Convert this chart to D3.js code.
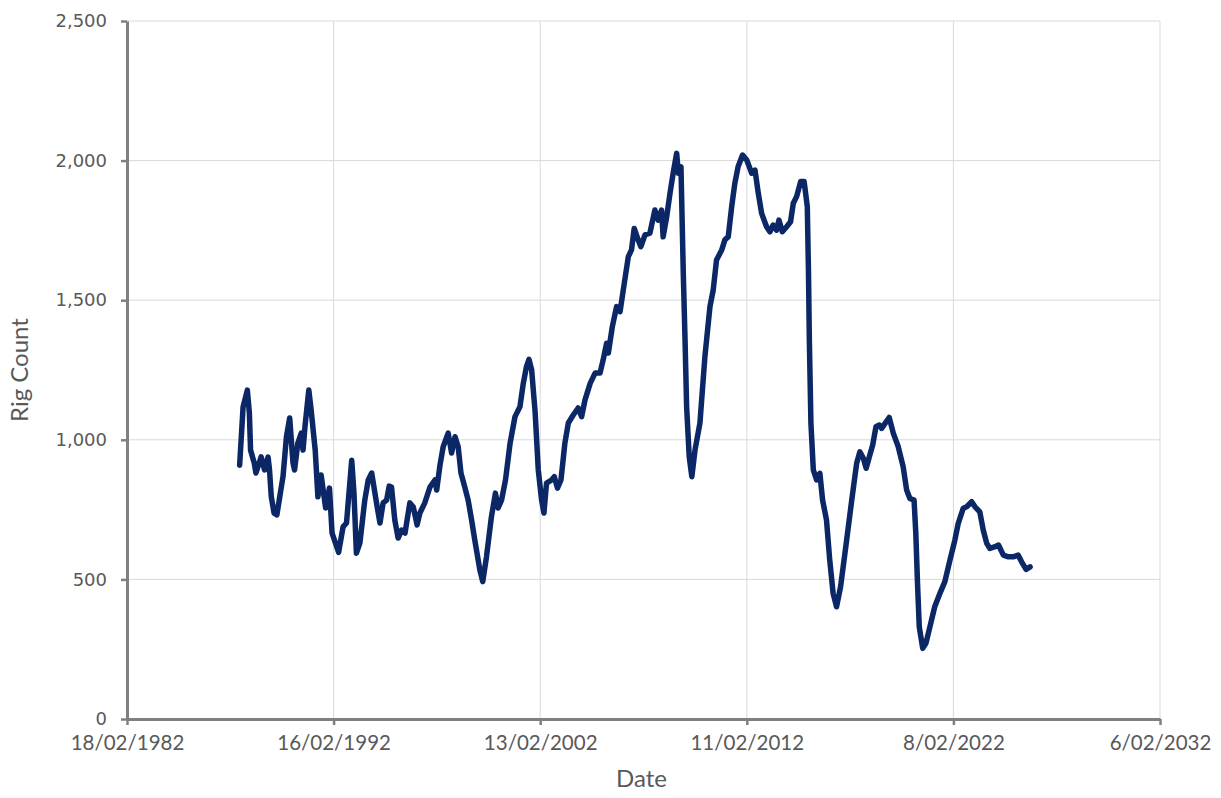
<!DOCTYPE html>
<html>
<head>
<meta charset="utf-8">
<script src="https://cdn.jsdelivr.net/npm/d3@7"></script>
<style>
  html, body { margin: 0; padding: 0; background: #ffffff; }
  svg { display: block; }
</style>
</head>
<body>
<svg id="chart" width="1221" height="798"></svg>
<script>
// ---- DATA ----
const dates = [
"1987-08-01","1987-10-01","1987-12-15","1988-01-20","1988-02-10","1988-04-15","1988-05-15","1988-08-15","1988-10-15","1988-12-15",
"1989-01-10","1989-02-10","1989-04-01","1989-05-20","1989-07-10","1989-09-05","1989-11-05","1990-01-01","1990-03-01","1990-03-28",
"1990-05-25","1990-07-25","1990-08-25","1990-10-01","1990-12-05","1991-01-15","1991-03-28","1991-05-15","1991-07-10","1991-09-28",
"1991-12-05","1992-01-20","1992-05-15","1992-08-01","1992-10-01","1993-01-01","1993-02-10","1993-03-25","1993-05-25","1993-08-20",
"1993-10-20","1993-12-20","1994-03-15","1994-05-15","1994-07-10","1994-09-10","1994-10-25","1994-12-05","1995-02-01","1995-04-01",
"1995-06-01","1995-08-01","1995-10-25","1995-12-25","1996-03-01","1996-04-20","1996-07-15","1996-10-15","1997-01-10","1997-02-10",
"1997-04-10","1997-06-05","1997-09-01","1997-11-01","1998-01-01","1998-02-25","1998-04-15","1998-06-20","1998-08-20","1998-10-20",
"1998-12-15","1999-03-15","1999-05-05","1999-07-10","1999-10-05","1999-12-15","2000-02-01","2000-04-01","2000-06-10","2000-08-30",
"2000-11-25","2001-02-20","2001-04-20","2001-06-15","2001-07-30","2001-09-15","2001-11-15","2002-01-10","2002-03-10","2002-04-20",
"2002-06-05","2002-09-01","2002-10-20","2002-12-15","2003-02-15","2003-04-25","2003-06-25","2003-09-20","2003-12-15","2004-02-15",
"2004-04-15","2004-07-15","2004-10-10","2005-01-05","2005-03-01","2005-05-01","2005-06-01","2005-08-10","2005-10-25","2005-12-25",
"2006-02-20","2006-05-20","2006-07-15","2006-09-01","2006-11-10","2006-12-28","2007-03-10","2007-06-05","2007-09-01","2007-10-30",
"2007-12-28","2008-01-25","2008-03-28","2008-05-25","2008-07-20","2008-09-20","2008-10-20","2008-12-05","2009-01-15","2009-02-15",
"2009-03-15","2009-04-30","2009-06-15","2009-08-10","2009-11-05","2010-02-01","2010-05-01","2010-06-28","2010-08-25","2010-11-25",
"2011-01-20","2011-03-20","2011-05-20","2011-07-15","2011-09-10","2011-11-28","2012-02-10","2012-05-08","2012-07-05","2012-09-01",
"2012-10-30","2013-01-25","2013-03-25","2013-05-20","2013-07-20","2013-09-01","2013-10-30","2014-01-15","2014-03-25","2014-05-12",
"2014-07-10","2014-09-20","2014-11-20","2015-01-15","2015-02-05","2015-02-20","2015-03-20","2015-05-01","2015-06-28","2015-08-25",
"2015-10-12","2015-12-20","2016-02-15","2016-04-15","2016-06-15","2016-08-25","2016-12-10","2017-03-10","2017-06-05","2017-08-01",
"2017-10-01","2017-11-20","2018-01-15","2018-03-15","2018-05-12","2018-07-10","2018-08-20","2018-10-20","2019-01-01","2019-03-15",
"2019-06-10","2019-09-05","2019-11-05","2020-01-01","2020-03-15","2020-04-15","2020-05-15","2020-06-15","2020-08-15","2020-10-10",
"2020-12-20","2021-03-15","2021-06-15","2021-09-10","2021-12-10","2022-03-05","2022-05-05","2022-08-01","2022-10-01","2022-12-28",
"2023-02-25","2023-05-20","2023-07-20","2023-09-20","2023-11-15","2024-02-15","2024-04-15","2024-07-10","2024-10-05","2025-01-01",
"2025-03-28","2025-05-28","2025-08-15","2025-10-25"
];
const rigCount = [
909,1118,1178,1096,963,917,881,939,892,938,
892,796,737,731,796,868,1011,1078,917,892,
988,1024,963,1053,1178,1107,963,796,874,756,
827,666,597,688,702,927,809,594,630,784,
856,881,774,702,774,784,834,831,713,648,
677,666,774,759,695,738,774,831,856,820,
910,975,1024,953,1011,975,881,832,784,713,
641,534,492,581,724,809,756,784,856,988,
1083,1118,1202,1262,1288,1250,1100,892,784,738,
845,856,868,827,856,988,1060,1089,1114,1083,
1143,1202,1239,1239,1286,1346,1311,1405,1477,1459,
1537,1656,1680,1757,1716,1692,1734,1740,1823,1787,
1823,1727,1799,1883,1955,2026,1955,1978,1596,1357,
1118,939,868,963,1060,1298,1477,1537,1644,1680,
1716,1727,1835,1919,1978,2020,2002,1955,1966,1883,
1811,1763,1745,1769,1751,1787,1745,1763,1781,1847,
1871,1925,1925,1835,1596,1357,1059,892,856,880,
784,713,570,450,402,474,641,784,916,957,
934,898,939,981,1047,1053,1041,1059,1080,1023,
975,903,820,790,784,665,486,330,253,271,
330,402,450,492,570,640,701,755,760,778,
760,742,677,629,611,617,623,587,581,581,
587,563,536,545
];
const xTickLabels = ["1982-02-18","1992-02-16","2002-02-13","2012-02-11","2022-02-08","2032-02-06"];
const yTickValues = [0, 500, 1000, 1500, 2000, 2500];
const xTitle = "Date";
const yTitle = "Rig Count";

// ---- CHART ----
const parse = d3.timeParse("%Y-%m-%d");
const data = dates.map((d, i) => ({ date: parse(d), value: rigCount[i] }));
const xTicks = xTickLabels.map(parse);

const margin = { left: 127, right: 61, top: 21, bottom: 79 };
const W = 1221, H = 798;
const svg = d3.select("#chart");

const x = d3.scaleTime()
  .domain([xTicks[0], xTicks[xTicks.length - 1]])
  .range([margin.left, W - margin.right]);
const y = d3.scaleLinear()
  .domain([0, 2500])
  .range([H - margin.bottom, margin.top]);

const gridColor = "#d9d9d9";
const axisColor = "#808080";
const textColor = "#595959";

// gridlines
svg.append("g").selectAll("line.h").data(yTickValues.slice(1)).join("line")
  .attr("x1", x.range()[0]).attr("x2", x.range()[1])
  .attr("y1", d => y(d)).attr("y2", d => y(d))
  .attr("stroke", gridColor).attr("stroke-width", 1);
svg.append("g").selectAll("line.v").data(xTicks.slice(1)).join("line")
  .attr("x1", d => x(d)).attr("x2", d => x(d))
  .attr("y1", y.range()[1]).attr("y2", y.range()[0])
  .attr("stroke", gridColor).attr("stroke-width", 1);

// axes
const xAxis = d3.axisBottom(x).tickValues(xTicks)
  .tickFormat(d3.timeFormat("%-d/%m/%Y")).tickSizeInner(6).tickSizeOuter(0).tickPadding(10);
const gx = svg.append("g").attr("transform", `translate(0,${y(0)})`).call(xAxis);
gx.select(".domain").attr("stroke", axisColor).attr("stroke-width", 3);
gx.selectAll(".tick line").attr("stroke", axisColor).attr("stroke-width", 2.5);
gx.selectAll(".tick text").attr("fill", textColor)
  .style("font-family", "Lato, 'Open Sans', sans-serif").style("font-size", "20.5px");

const yAxis = d3.axisLeft(y).tickValues(yTickValues)
  .tickFormat(d3.format(",")).tickSizeInner(6).tickSizeOuter(0).tickPadding(14);
const gy = svg.append("g").attr("transform", `translate(${x.range()[0]},0)`).call(yAxis);
gy.select(".domain").attr("stroke", axisColor).attr("stroke-width", 3);
gy.selectAll(".tick line").attr("stroke", axisColor).attr("stroke-width", 2.5);
gy.selectAll(".tick text").attr("fill", textColor)
  .style("font-family", "'DejaVu Sans', sans-serif").style("font-size", "18px");

// line
const line = d3.line().x(d => x(d.date)).y(d => y(d.value));
svg.append("path").datum(data)
  .attr("fill", "none")
  .attr("stroke", "#0c2766")
  .attr("stroke-width", 5.5)
  .attr("stroke-linejoin", "round")
  .attr("stroke-linecap", "round")
  .attr("d", line);

// titles
svg.append("text")
  .attr("x", (x.range()[0] + x.range()[1]) / 2 - 2)
  .attr("y", 787)
  .attr("text-anchor", "middle")
  .attr("fill", textColor)
  .style("font-family", "Lato, 'Open Sans', sans-serif").style("font-size", "24px")
  .text(xTitle);
svg.append("text")
  .attr("transform", `translate(28,${(y.range()[0] + y.range()[1]) / 2}) rotate(-90)`)
  .attr("text-anchor", "middle")
  .attr("fill", textColor)
  .style("font-family", "Lato, 'Open Sans', sans-serif").style("font-size", "24px")
  .text(yTitle);
</script>
</body>
</html>
